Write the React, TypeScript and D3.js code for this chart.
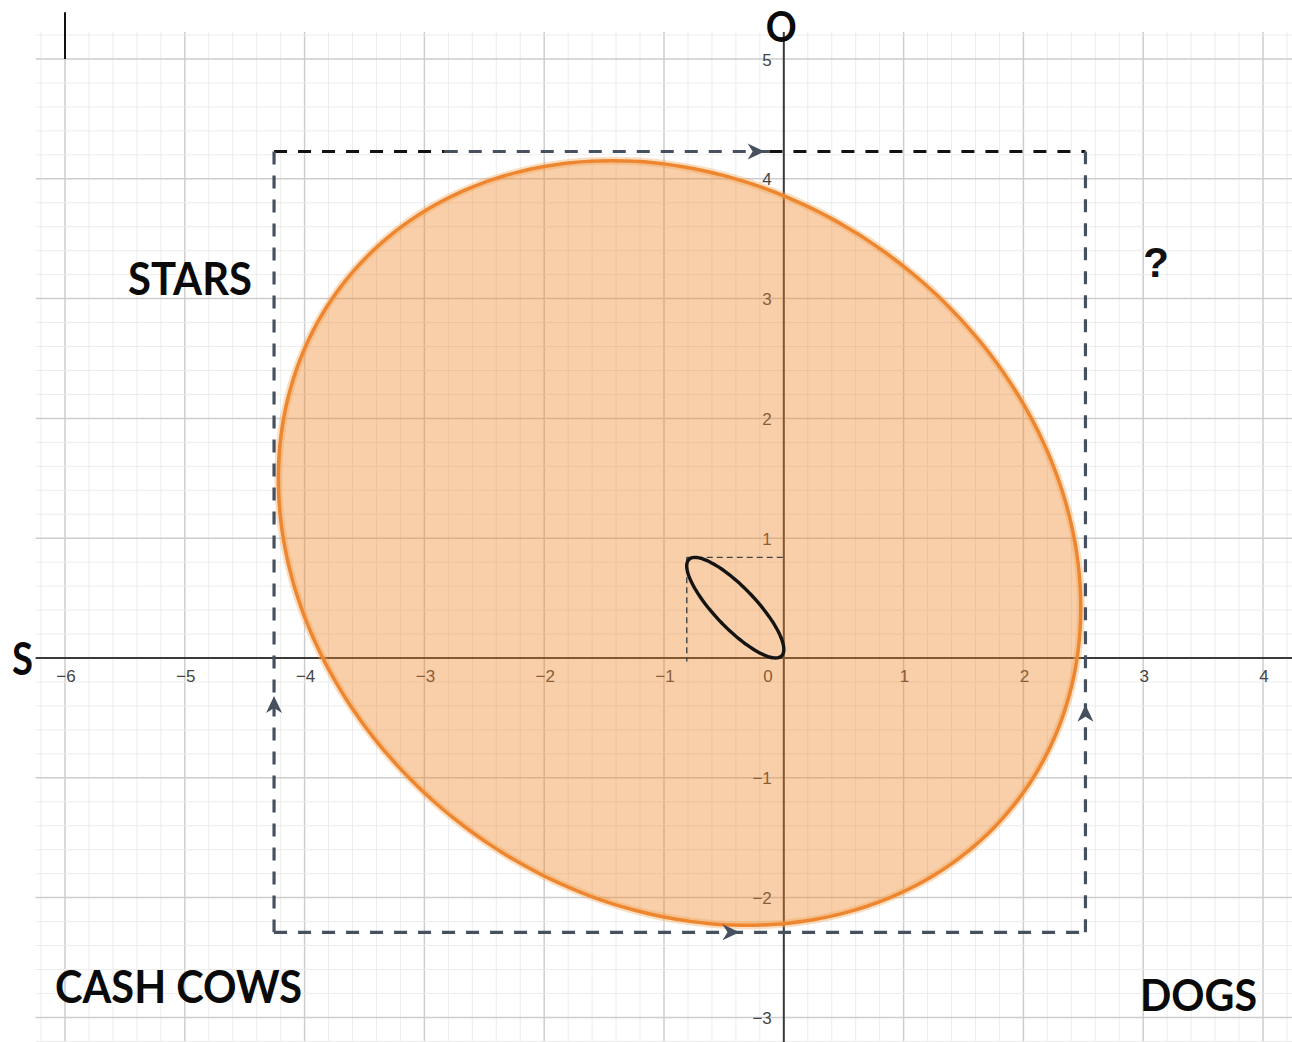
import React, { useEffect, useRef } from "react";
import * as d3 from "d3";

// Dimensions
const width = 1292;
const height = 1042;

// Grid extent (data units)
const gridX: [number, number] = [-6.245, 4.3];
const gridY: [number, number] = [-3.3, 5.225];

// Tick labels
const xTicks = [-6, -5, -4, -3, -2, -1, 1, 2, 3, 4];
const yTicks = [-3, -2, -1, 1, 2, 3, 4, 5];

// Ellipses: centre, semi-axes, rotation (degrees, data space)
const bigEllipse = { cx: -0.87, cy: 0.96, rx: 3.546, ry: 2.971, angle: -37 };
const smallEllipse = { cx: -0.405, cy: 0.42, rx: 0.558, ry: 0.17, angle: -46.2 };

// Small dashed guide box around the small ellipse
const smallBox = { left: -0.81, top: 0.84 };

// Big dashed box
const box = { left: -4.255, right: 2.518, top: 4.228, bottom: -2.29 };
const topSegments = [
  { from: -4.255, to: -2.83, colour: "#111" },
  { from: -2.83, to: -0.12, colour: "#46505e" },
  { from: -0.12, to: 2.518, colour: "#111" },
];
// arrow tips: [x, y, direction]
const arrows: [number, number, string][] = [
  [-0.16, 4.228, "right"],
  [-0.37, -2.29, "right"],
  [-4.255, -0.317, "up"],
  [2.518, -0.39, "up"],
];

// Quadrant labels
const labels = [
  { text: "STARS", x: -5.474, y: 3.03, len: 124, size: 46 },
  { text: "CASH COWS", x: -6.083, y: -2.88, len: 247, size: 46 },
  { text: "DOGS", x: 2.973, y: -2.947, len: 117, size: 44 },
  { text: "O", x: -0.15, y: 5.146, len: 31, size: 42 },
  { text: "S", x: -6.442, y: -0.142, len: 21, size: 46 },
];

const App = () => {
  const graphRef = useRef<HTMLDivElement>(null);

  useEffect(() => {
    if (!graphRef.current) return;
    d3.select(graphRef.current).selectAll("*").remove();

    const svg = d3
      .select(graphRef.current)
      .append("svg")
      .attr("width", width)
      .attr("height", height)
      .style("display", "block")
      .style("background", "#fff");

    const x = d3.scaleLinear().domain([-6, 4]).range([65, 1263]);
    const y = d3.scaleLinear().domain([5, -3]).range([59, 1017.4]);

    const isMajor = (d: number) => Math.abs(d - Math.round(d)) < 1e-6;

    // Grid
    const grid = svg.append("g");
    const minorX = d3.range(-31, 22).map((i) => i / 5);
    const minorY = d3.range(-16, 27).map((i) => i / 5);
    grid
      .selectAll("line.vx")
      .data(minorX)
      .join("line")
      .attr("x1", (d) => x(d))
      .attr("x2", (d) => x(d))
      .attr("y1", y(gridY[1]))
      .attr("y2", height)
      .attr("stroke", (d) => (isMajor(d) ? "#cdcdcd" : "#ececec"))
      .attr("stroke-width", (d) => (isMajor(d) ? 1.5 : 1));
    grid
      .selectAll("line.hy")
      .data(minorY)
      .join("line")
      .attr("x1", x(gridX[0]))
      .attr("x2", width)
      .attr("y1", (d) => y(d))
      .attr("y2", (d) => y(d))
      .attr("stroke", (d) => (isMajor(d) ? "#cdcdcd" : "#ececec"))
      .attr("stroke-width", (d) => (isMajor(d) ? 1.5 : 1));

    // Axes
    svg
      .append("line")
      .attr("x1", x(gridX[0]))
      .attr("x2", width)
      .attr("y1", y(0))
      .attr("y2", y(0))
      .attr("stroke", "#3a3a3a")
      .attr("stroke-width", 2);
    svg
      .append("line")
      .attr("x1", x(0))
      .attr("x2", x(0))
      .attr("y1", y(gridY[1]))
      .attr("y2", height)
      .attr("stroke", "#3a3a3a")
      .attr("stroke-width", 2);

    // odd cursor mark at the top left
    svg
      .append("line")
      .attr("x1", x(-6))
      .attr("x2", x(-6))
      .attr("y1", y(5.39))
      .attr("y2", y(5.0))
      .attr("stroke", "#111")
      .attr("stroke-width", 2);

    // Tick labels
    const tickFont = "'Liberation Sans', Arial, sans-serif";
    svg
      .selectAll("text.xt")
      .data(xTicks)
      .join("text")
      .attr("x", (d) => x(d) + 1)
      .attr("y", y(0) + 24)
      .attr("text-anchor", "middle")
      .style("font-family", tickFont)
      .style("font-size", "17px")
      .style("fill", "#444")
      .text((d) => (d < 0 ? "\u2212" + Math.abs(d) : String(d)));
    svg
      .append("text")
      .attr("x", x(0) - 11)
      .attr("y", y(0) + 24)
      .attr("text-anchor", "end")
      .style("font-family", tickFont)
      .style("font-size", "17px")
      .style("fill", "#444")
      .text("0");
    svg
      .selectAll("text.yt")
      .data(yTicks)
      .join("text")
      .attr("x", x(0) - 12)
      .attr("y", (d) => y(d) + 6.5)
      .attr("text-anchor", "end")
      .style("font-family", tickFont)
      .style("font-size", "17px")
      .style("fill", "#444")
      .text((d) => (d < 0 ? "\u2212" + Math.abs(d) : String(d)));

    // Ellipse path through the scales
    const ellipsePath = (e: typeof bigEllipse) => {
      const a = (e.angle * Math.PI) / 180;
      const pts = d3.range(0, 360, 2).map((deg) => {
        const t = (deg * Math.PI) / 180;
        const u = e.rx * Math.cos(t);
        const v = e.ry * Math.sin(t);
        return [e.cx + u * Math.cos(a) - v * Math.sin(a), e.cy + u * Math.sin(a) + v * Math.cos(a)];
      });
      return d3
        .line<number[]>()
        .x((d) => x(d[0]))
        .y((d) => y(d[1]))
        .curve(d3.curveCardinalClosed)(pts);
    };

    const big = ellipsePath(bigEllipse);
    svg
      .append("path")
      .attr("d", big)
      .attr("fill", "rgb(240,135,40)")
      .attr("fill-opacity", 0.4)
      .attr("stroke", "none");
    svg
      .append("path")
      .attr("d", big)
      .attr("fill", "none")
      .attr("stroke", "#f2a050")
      .attr("stroke-opacity", 0.35)
      .attr("stroke-width", 8);
    svg
      .append("path")
      .attr("d", big)
      .attr("fill", "none")
      .attr("stroke", "#ee8630")
      .attr("stroke-width", 3.5);

    // Small dashed guide
    const guide = svg
      .append("g")
      .attr("stroke", "#444")
      .attr("stroke-width", 1.4)
      .attr("stroke-dasharray", "6 4")
      .attr("fill", "none");
    guide
      .append("line")
      .attr("x1", x(smallBox.left))
      .attr("x2", x(0))
      .attr("y1", y(smallBox.top))
      .attr("y2", y(smallBox.top));
    guide
      .append("line")
      .attr("x1", x(smallBox.left))
      .attr("x2", x(smallBox.left))
      .attr("y1", y(smallBox.top))
      .attr("y2", y(-0.03));

    svg
      .append("path")
      .attr("d", ellipsePath(smallEllipse))
      .attr("fill", "none")
      .attr("stroke", "#141414")
      .attr("stroke-width", 3.4);

    // Big dashed box
    const dash = "13 11";
    const boxG = svg.append("g").attr("stroke-width", 3.2).attr("stroke-dasharray", dash).attr("fill", "none");
    topSegments.forEach((s) => {
      boxG
        .append("line")
        .attr("x1", x(s.from))
        .attr("x2", x(s.to))
        .attr("y1", y(box.top))
        .attr("y2", y(box.top))
        .attr("stroke", s.colour);
    });
    boxG
      .append("line")
      .attr("x1", x(box.left))
      .attr("x2", x(box.left))
      .attr("y1", y(box.top))
      .attr("y2", y(box.bottom))
      .attr("stroke", "#46505e");
    boxG
      .append("line")
      .attr("x1", x(box.left))
      .attr("x2", x(box.right))
      .attr("y1", y(box.bottom))
      .attr("y2", y(box.bottom))
      .attr("stroke", "#46505e");
    boxG
      .append("line")
      .attr("x1", x(box.right))
      .attr("x2", x(box.right))
      .attr("y1", y(box.bottom))
      .attr("y2", y(box.top))
      .attr("stroke", "#46505e");

    // Arrow heads
    svg
      .selectAll("path.arrow")
      .data(arrows)
      .join("path")
      .attr("d", "M0,0 L-17,-8 L-12,0 L-17,8 Z")
      .attr("transform", (d) => `translate(${x(d[0])},${y(d[1])}) rotate(${d[2] === "up" ? -90 : 0})`)
      .attr("fill", "#46505e");

    // Quadrant labels
    svg
      .selectAll("text.lab")
      .data(labels)
      .join("text")
      .attr("x", (d) => x(d.x))
      .attr("y", (d) => y(d.y))
      .attr("textLength", (d) => d.len)
      .attr("lengthAdjust", "spacingAndGlyphs")
      .style("font-family", "Lato, 'Open Sans', sans-serif")
      .style("font-weight", 700)
      .style("font-size", (d) => `${d.size}px`)
      .style("fill", "#0a0a0a")
      .text((d) => d.text);

    svg
      .append("text")
      .attr("x", x(3.0))
      .attr("y", y(3.18))
      .style("font-family", "'Liberation Sans', Arial, sans-serif")
      .style("font-weight", 700)
      .style("font-size", "42px")
      .style("fill", "#111")
      .text("?");
  }, []);

  return <div ref={graphRef} style={{ position: "absolute", left: 0, top: 0 }}></div>;
};

export default App;
